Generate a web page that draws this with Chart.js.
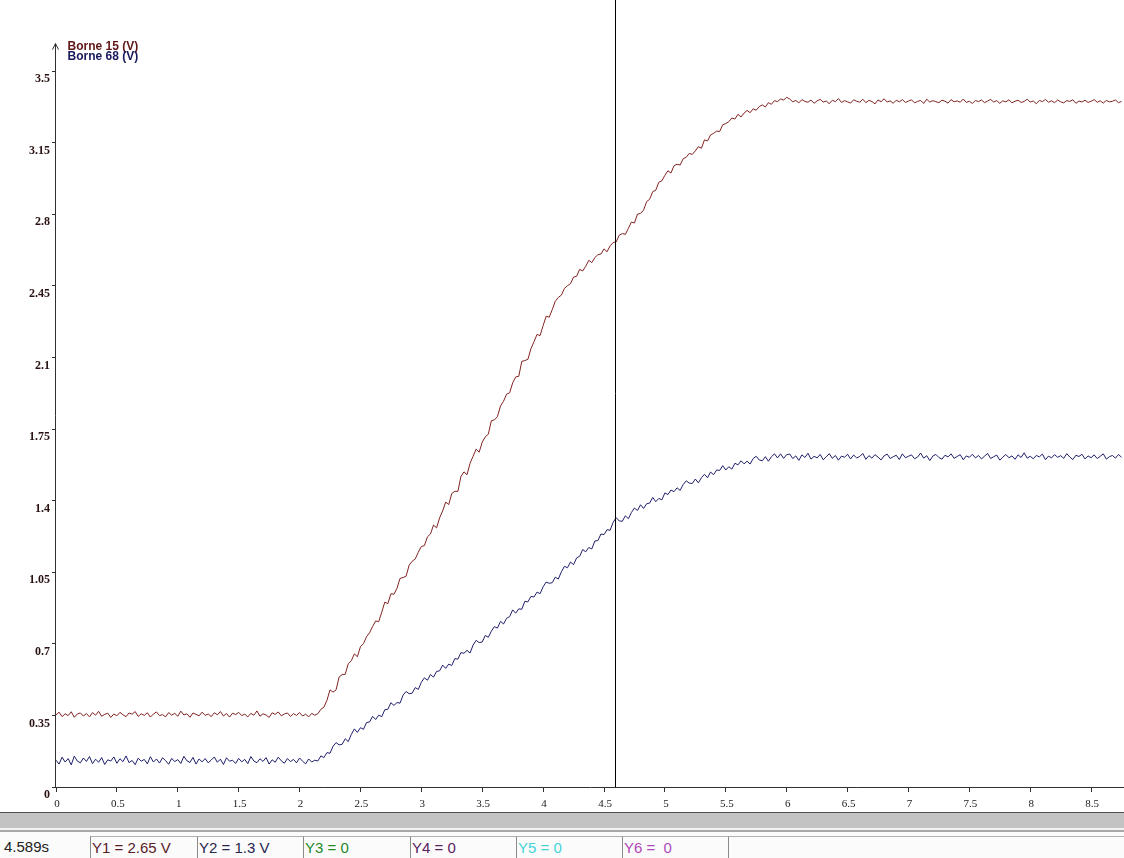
<!DOCTYPE html>
<html>
<head>
<meta charset="utf-8">
<title>Borne 15 / Borne 68</title>
<script src="https://cdn.jsdelivr.net/npm/chart.js@4.4.0/dist/chart.umd.min.js"></script>
<style>
  html, body { margin: 0; padding: 0; background: #fff; overflow: hidden; }
  body { width: 1124px; height: 858px; position: relative; font-family: "Liberation Sans", Arial, sans-serif; }
  #plot { position: absolute; left: 0; top: 0; width: 1124px; height: 812px; }
  .band { position: absolute; left: 0; width: 1124px; }
  .cell { position: absolute; top: 836px; height: 22px; border-left: 1px solid #8a8a8a; border-top: 1px solid #b0b0b0;
          font-size: 15px; line-height: 22px; padding-left: 1px; white-space: pre; }
</style>
</head>
<body>
<div id="plot"><canvas id="chart"></canvas></div>

<div class="band" style="top:812px;height:1px;background:#505050"></div>
<div class="band" style="top:813px;height:15px;background:#c3c3c3"></div>
<div class="band" style="top:828px;height:2px;background:#f2f2f2"></div>
<div class="band" style="top:830px;height:2px;background:#a8a8a8"></div>
<div class="band" style="top:832px;height:26px;background:#fbfbfb"></div>

<div id="statusBar"></div>

<script>
// sampling step of the recorder (s)
const dt = 0.025;

// Borne 15 (V) - red trace
const borne15 = [
  // 0 .. 2.15 s
  0.352, 0.366, 0.344, 0.358, 0.349, 0.368, 0.341, 0.357, 0.362, 0.347,
  0.359, 0.343, 0.364, 0.351, 0.370, 0.346, 0.355, 0.361, 0.340, 0.357,
  0.348, 0.365, 0.353, 0.344, 0.362, 0.356, 0.369, 0.345, 0.358, 0.350,
  0.363, 0.342, 0.357, 0.367, 0.349, 0.354, 0.343, 0.364, 0.351, 0.360,
  0.346, 0.371, 0.352, 0.358, 0.341, 0.362, 0.355, 0.348, 0.366, 0.350,
  0.357, 0.344, 0.363, 0.353, 0.369, 0.347, 0.359, 0.342, 0.361, 0.354,
  0.365, 0.349, 0.356, 0.343, 0.360, 0.351, 0.372, 0.346, 0.358, 0.352,
  0.340, 0.363, 0.355, 0.367, 0.348, 0.357, 0.362, 0.345, 0.359, 0.350,
  0.364, 0.347, 0.356, 0.343, 0.360, 0.351, 0.358,
  // 2.175 .. 6.0 s
  0.380, 0.390, 0.424, 0.475, 0.464, 0.475, 0.538, 0.550, 0.551, 0.603,
  0.617, 0.651, 0.637, 0.686, 0.701, 0.735, 0.754, 0.785, 0.812, 0.808,
  0.855, 0.904, 0.896, 0.945, 0.942, 0.972, 1.020, 1.024, 1.031, 1.085,
  1.104, 1.115, 1.148, 1.176, 1.180, 1.223, 1.237, 1.281, 1.267, 1.316,
  1.350, 1.393, 1.381, 1.435, 1.446, 1.445, 1.518, 1.541, 1.527, 1.583,
  1.617, 1.652, 1.637, 1.686, 1.712, 1.725, 1.791, 1.795, 1.811, 1.863,
  1.886, 1.921, 1.927, 1.976, 2.005, 2.008, 2.081, 2.085, 2.091, 2.143,
  2.177, 2.213, 2.207, 2.256, 2.302, 2.297, 2.334, 2.375, 2.394, 2.405,
  2.438, 2.451, 2.461, 2.493, 2.497, 2.531, 2.523, 2.546, 2.575, 2.564,
  2.588, 2.603, 2.606, 2.631, 2.617, 2.646, 2.662, 2.665, 2.698, 2.706,
  2.702, 2.731, 2.762, 2.758, 2.801, 2.804, 2.821, 2.862, 2.874, 2.911,
  2.918, 2.957, 2.964, 2.991, 3.013, 3.002, 3.038, 3.045, 3.041, 3.072,
  3.079, 3.098, 3.093, 3.110, 3.131, 3.123, 3.164, 3.159, 3.188, 3.196,
  3.207, 3.205, 3.238, 3.244, 3.253, 3.271, 3.266, 3.289, 3.276, 3.295,
  3.308, 3.297, 3.316, 3.309, 3.327, 3.335, 3.325, 3.346, 3.338, 3.356,
  3.351, 3.364, 3.359, 3.372,
  // 6.025 .. 8.75 s
  3.364, 3.350, 3.357, 3.345, 3.361, 3.352, 3.348, 3.359, 3.343, 3.355,
  3.362, 3.349, 3.354, 3.341, 3.358, 3.351, 3.366, 3.347, 3.356, 3.350,
  3.344, 3.360, 3.353, 3.348, 3.363, 3.346, 3.357, 3.352, 3.340, 3.359,
  3.351, 3.365, 3.349, 3.355, 3.343, 3.358, 3.350, 3.361, 3.347, 3.354,
  3.360, 3.345, 3.352, 3.357, 3.342, 3.363, 3.349, 3.356, 3.351, 3.346,
  3.358, 3.353, 3.344, 3.361, 3.350, 3.355, 3.348, 3.364, 3.347, 3.353,
  3.342, 3.357, 3.351, 3.359, 3.346, 3.354, 3.362, 3.349, 3.356, 3.343,
  3.355, 3.350, 3.360, 3.345, 3.353, 3.358, 3.347, 3.352, 3.363, 3.349,
  3.354, 3.341, 3.357, 3.351, 3.362, 3.348, 3.355, 3.346, 3.359, 3.350,
  3.345, 3.356, 3.352, 3.360, 3.343, 3.354, 3.349, 3.358, 3.347, 3.353,
  3.361, 3.348, 3.355, 3.344, 3.357, 3.350, 3.353, 3.359, 3.346, 3.352
];

// Borne 68 (V) - blue trace
const borne68 = [
  // 0 .. 2.15 s
  0.131, 0.112, 0.146, 0.122, 0.139, 0.108, 0.151, 0.127, 0.118, 0.142,
  0.125, 0.149, 0.114, 0.136, 0.121, 0.144, 0.110, 0.133, 0.127, 0.147,
  0.116, 0.138, 0.124, 0.152, 0.119, 0.130, 0.109, 0.141, 0.126, 0.135,
  0.113, 0.148, 0.122, 0.137, 0.117, 0.143, 0.129, 0.111, 0.140, 0.124,
  0.134, 0.115, 0.150, 0.128, 0.120, 0.145, 0.112, 0.137, 0.123, 0.139,
  0.118, 0.132, 0.147, 0.121, 0.136, 0.110, 0.143, 0.126, 0.131, 0.115,
  0.140, 0.123, 0.135, 0.114, 0.149, 0.127, 0.119, 0.138, 0.125, 0.144,
  0.112, 0.133, 0.121, 0.146, 0.128, 0.116, 0.139, 0.124, 0.135, 0.118,
  0.142, 0.126, 0.113, 0.137, 0.122, 0.131, 0.127,
  // 2.175 .. 6.0 s
  0.152, 0.144, 0.168, 0.165, 0.199, 0.217, 0.206, 0.209, 0.236, 0.222,
  0.257, 0.284, 0.267, 0.290, 0.282, 0.315, 0.318, 0.346, 0.330, 0.351,
  0.344, 0.378, 0.380, 0.412, 0.399, 0.413, 0.410, 0.449, 0.467, 0.456,
  0.459, 0.486, 0.477, 0.512, 0.534, 0.522, 0.550, 0.537, 0.565, 0.568,
  0.596, 0.580, 0.601, 0.594, 0.628, 0.625, 0.657, 0.654, 0.668, 0.655,
  0.694, 0.717, 0.706, 0.709, 0.741, 0.732, 0.762, 0.784, 0.777, 0.810,
  0.797, 0.825, 0.833, 0.866, 0.850, 0.871, 0.869, 0.908, 0.905, 0.932,
  0.929, 0.953, 0.945, 0.979, 1.002, 0.996, 0.999, 1.026, 1.017, 1.052,
  1.079, 1.072, 1.100, 1.087, 1.120, 1.128, 1.161, 1.150, 1.171, 1.164,
  1.203, 1.205, 1.237, 1.234, 1.258, 1.255, 1.294, 1.317, 1.301, 1.299,
  1.326, 1.312, 1.342, 1.364, 1.352, 1.380, 1.362, 1.385, 1.388, 1.416,
  1.395, 1.411, 1.404, 1.438, 1.430, 1.452, 1.444, 1.463, 1.450, 1.479,
  1.497, 1.486, 1.484, 1.506, 1.487, 1.512, 1.529, 1.512, 1.540, 1.527,
  1.550, 1.548, 1.571, 1.550, 1.566, 1.554, 1.583, 1.575, 1.595, 1.580,
  1.593, 1.579, 1.606, 1.617, 1.599, 1.595, 1.615, 1.593, 1.615, 1.629,
  1.609, 1.629, 1.607, 1.625,
  // 6.025 .. 8.75 s
  1.628, 1.606, 1.619, 1.597, 1.624, 1.611, 1.632, 1.603, 1.617, 1.609,
  1.626, 1.600, 1.614, 1.630, 1.607, 1.621, 1.598, 1.618, 1.612, 1.627,
  1.604, 1.623, 1.609, 1.616, 1.631, 1.602, 1.620, 1.608, 1.625, 1.613,
  1.599, 1.619, 1.628, 1.606, 1.615, 1.622, 1.601, 1.629, 1.610, 1.617,
  1.624, 1.605, 1.613, 1.633, 1.608, 1.620, 1.596, 1.618, 1.626, 1.611,
  1.603, 1.622, 1.614, 1.629, 1.607, 1.616, 1.625, 1.600, 1.619, 1.612,
  1.627, 1.609, 1.621, 1.604, 1.618, 1.631, 1.606, 1.615, 1.623, 1.598,
  1.613, 1.626, 1.610, 1.619, 1.602, 1.624, 1.611, 1.634, 1.608, 1.617,
  1.605, 1.621, 1.614, 1.628, 1.600, 1.618, 1.609, 1.625, 1.612, 1.620,
  1.607, 1.630, 1.613, 1.601, 1.622, 1.616, 1.627, 1.604, 1.619, 1.610,
  1.624, 1.606, 1.617, 1.629, 1.603, 1.615, 1.621, 1.608, 1.626, 1.612
];

const xTicks = [0, 0.5, 1, 1.5, 2, 2.5, 3, 3.5, 4, 4.5, 5, 5.5, 6, 6.5, 7, 7.5, 8, 8.5];
const yTicks = [0, 0.35, 0.7, 1.05, 1.4, 1.75, 2.1, 2.45, 2.8, 3.15, 3.5];

const seriesNames = ['Borne 15 (V)', 'Borne 68 (V)'];
const seriesColors = ['#822222', '#1e1e6c'];

// cursor readout
const cursorTime = 4.589;
const statusTexts = ['4.589s', 'Y1 = 2.65 V', 'Y2 = 1.3 V', 'Y3 = 0', 'Y4 = 0', 'Y5 = 0', 'Y6 =  0', ''];
const statusColors = ['#222', '#5a2028', '#26264e', '#1f8a2a', '#5a2060', '#45d3d8', '#b048b8', '#000'];
const statusLeft = [3, 90, 197, 303, 410, 516, 622, 728];

const xMax = 8.77;
const yMax = 3.848;
const arrowTop = 3.635;

// status bar cells
const statusBar = document.getElementById('statusBar');
statusTexts.forEach((txt, i) => {
    const d = document.createElement('div');
    d.className = 'cell';
    d.textContent = txt;
    d.style.left = statusLeft[i] + 'px';
    d.style.color = statusColors[i];
    const right = i < statusLeft.length - 1 ? statusLeft[i + 1] : 1124;
    d.style.width = (right - statusLeft[i] - 2) + 'px';
    if (i === 0) { d.style.borderLeft = 'none'; d.style.borderTop = 'none'; }
    statusBar.appendChild(d);
});

const toPoints = arr => arr.map((v, i) => ({ x: i * dt, y: v }));

// y axis with arrow, cursor line, curve names
const overlay = {
    id: 'overlay',
    afterDatasetsDraw(chart) {
        const { ctx, scales: { x, y }, chartArea } = chart;
        ctx.save();
        const ax = Math.round(x.getPixelForValue(0)) - 0.5;
        const y0 = y.getPixelForValue(0);
        const yTop = y.getPixelForValue(arrowTop);
        ctx.strokeStyle = '#303030';
        ctx.lineWidth = 1;
        ctx.beginPath();
        ctx.moveTo(ax, y0);
        ctx.lineTo(ax, yTop);
        ctx.moveTo(ax - 3, yTop + 6);
        ctx.lineTo(ax, yTop);
        ctx.lineTo(ax + 3, yTop + 6);
        ctx.stroke();

        const cx = Math.round(x.getPixelForValue(cursorTime)) + 0.5;
        ctx.strokeStyle = '#000';
        ctx.beginPath();
        ctx.moveTo(cx, chartArea.top);
        ctx.lineTo(cx, chartArea.bottom);
        ctx.stroke();

        ctx.font = 'bold 12px "Liberation Sans", Arial, sans-serif';
        ctx.textBaseline = 'middle';
        seriesNames.forEach((name, i) => {
            ctx.fillStyle = i === 0 ? '#5e1616' : '#18185c';
            ctx.fillText(name, ax + 12, yTop + 3 + i * 10);
        });
        ctx.restore();
    }
};

new Chart(document.getElementById('chart').getContext('2d'), {
    type: 'line',
    data: {
        datasets: [
            { label: seriesNames[0], data: toPoints(borne15), borderColor: seriesColors[0], borderWidth: 1, pointRadius: 0, tension: 0 },
            { label: seriesNames[1], data: toPoints(borne68), borderColor: seriesColors[1], borderWidth: 1, pointRadius: 0, tension: 0 }
        ]
    },
    options: {
        responsive: true,
        maintainAspectRatio: false,
        animation: false,
        events: [],
        layout: { padding: 0 },
        plugins: { legend: { display: false }, tooltip: { enabled: false } },
        scales: {
            x: {
                type: 'linear',
                min: 0,
                max: xMax,
                afterBuildTicks: s => { s.ticks = xTicks.map(v => ({ value: v })); },
                afterFit: s => { s.height = 25; s.paddingLeft = 0; s.paddingRight = 0; },
                grid: { drawOnChartArea: false, tickLength: 5, color: '#303030' },
                border: { display: true, color: '#303030', width: 1 },
                ticks: {
                    autoSkip: false, maxRotation: 0, padding: 6, labelOffset: 1,
                    color: '#1a1a1a',
                    font: { family: '"Liberation Serif", "DejaVu Serif", serif', size: 11 },
                    callback: v => String(v)
                }
            },
            y: {
                type: 'linear',
                min: 0,
                max: yMax,
                afterBuildTicks: s => { s.ticks = yTicks.map(v => ({ value: v })); },
                afterFit: s => { s.width = 56; s.paddingTop = 0; s.paddingBottom = 0; },
                grid: { drawOnChartArea: false, tickLength: 4, color: '#303030' },
                border: { display: false },
                ticks: {
                    autoSkip: false, padding: 2, labelOffset: 8,
                    color: '#2a1212',
                    font: { family: '"Liberation Serif", "DejaVu Serif", serif', size: 12, weight: 'bold' },
                    callback: v => String(v)
                }
            }
        }
    },
    plugins: [overlay]
});

if (borne15.length !== 351 || borne68.length !== 351) {
    throw new Error('sample count ' + borne15.length + ' / ' + borne68.length);
}
</script>
</body>
</html>
